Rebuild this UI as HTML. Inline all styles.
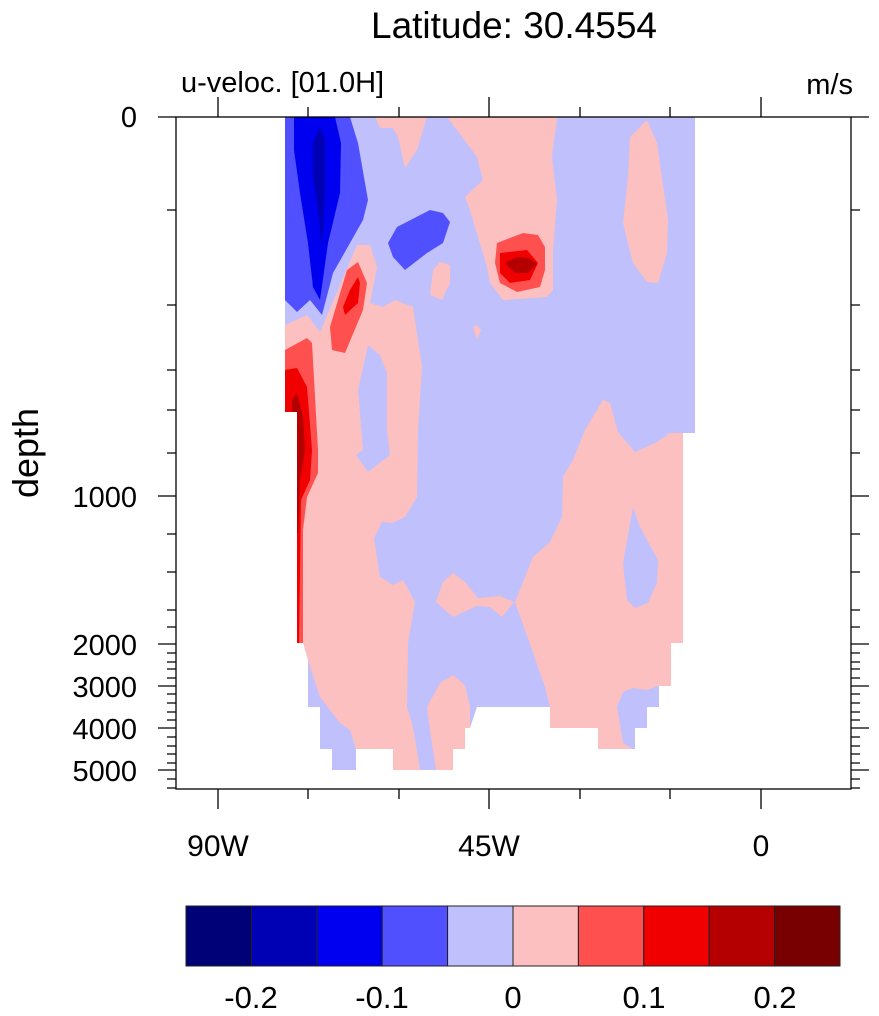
<!DOCTYPE html>
<html><head><meta charset="utf-8"><style>
html,body{margin:0;padding:0;background:#fff;}
svg{display:block;font-family:"Liberation Sans",sans-serif;}
</style></head><body>
<svg width="879" height="1016" viewBox="0 0 879 1016" xmlns="http://www.w3.org/2000/svg">
<rect width="879" height="1016" fill="#fff"/>
<text x="514" y="38" font-size="37" text-anchor="middle">Latitude: 30.4554</text>
<text x="181" y="92" font-size="29">u-veloc. [01.0H]</text>
<text x="853" y="94" font-size="29" text-anchor="end">m/s</text>
<text transform="translate(38,453) rotate(-90)" font-size="36" text-anchor="middle">depth</text>

<polygon fill="#c0c0fc" points="285,117 695,117 695,433 683,433 683,643 671,643 671,686 659,686 659,707 647,707 647,728 635,728 635,749 598,749 598,728 550,728 550,707 477,707 470,728 465,728 465,749 453,749 453,770 393,770 393,749 356,749 356,770 332,770 332,749 320,749 320,707 308,707 308,643 297,643 297,412 285,412"/>

<polygon fill="#fcc0c0" points="375,117 427,117 417,150 405,168 398,137 393,128 380,128"/>
<polygon fill="#fcc0c0" points="447,117 557,117 552,157 557,200 553,250 553,290 547,297 503,300 490,283 487,267 470,210 465,197 483,180 477,157 457,130"/>
<polygon fill="#fcc0c0" points="630,137 647,120 657,143 668,220 667,253 658,283 647,282 633,263 623,223 628,177"/>
<polygon fill="#fcc0c0" points="433,270 440,262 450,265 450,283 442,300 430,295"/>
<polygon fill="#fcc0c0" points="473,327 477,325 481,330 477,340"/>
<polygon fill="#fcc0c0" points="285,325 307,315 320,332 357,245 370,245 377,267 370,303 383,307 395,300 413,307 422,367 418,430 417,497 405,517 392,523 382,522 374,538 380,577 393,585 403,580 415,602 408,643 407,707 413,727 420,770 393,770 393,749 356,749 350,730 340,723 320,697 308,660 303,643 297,643 297,412 285,412"/>
<polygon fill="#c0c0fc" points="368,345 380,355 387,373 387,430 390,455 368,472 356,455 363,450 358,390"/>
<polygon fill="#fcc0c0" points="603,400 610,403 618,432 635,452 657,442 670,433 683,433 683,643 671,643 671,686 658,686 647,690 633,688 623,692 617,707 623,743 633,749 598,749 598,728 550,728 550,707 545,687 525,630 515,602 533,557 550,542 562,517 563,477 573,460 585,430"/>
<polygon fill="#c0c0fc" points="633,507 640,527 658,560 657,583 648,603 635,608 627,600 623,563 627,540"/>
<polygon fill="#fcc0c0" points="436,602 443,582 453,573 465,582 478,598 500,596 514,602 502,617 490,607 477,606 453,617"/>
<polygon fill="#fcc0c0" points="427,707 440,683 453,675 465,685 470,707 470,728 465,728 465,749 453,749 453,770 436,770 430,730"/>

<polygon fill="#ff5050" points="497,243 523,233 538,235 545,247 545,270 540,287 517,292 500,283 495,263"/>
<polygon fill="#f00000" points="500,253 527,250 538,263 530,280 510,283 500,273"/>
<polygon fill="#b40000" points="505,263 517,257 528,258 537,264 528,273 515,273"/>

<polygon fill="#5050ff" points="388,243 397,227 430,210 443,213 450,222 443,243 427,253 405,270 393,257"/>
<polygon fill="#5050ff" points="285,117 350,117 358,143 368,200 363,220 350,243 333,273 322,315 310,300 297,312 285,300"/>
<polygon fill="#0000f0" points="294,117 335,117 341,143 340,193 328,243 320,300 313,287 308,243 300,193 294,150"/>
<polygon fill="#0000b4" points="313,143 320,127 325,140 325,193 322,247 318,210 313,177"/>

<polygon fill="#ff5050" points="330,327 347,270 358,262 367,283 363,310 345,353 332,350"/>
<polygon fill="#f00000" points="343,307 350,290 358,277 360,283 358,303 345,315"/>
<polygon fill="#ff5050" points="285,350 307,338 312,343 318,450 318,473 307,497 303,530 303,643 297,643 297,412 285,412"/>
<polygon fill="#f00000" points="285,370 297,368 307,387 312,450 310,480 301,500 299,643 297,643 297,412 285,412"/>
<polygon fill="#b40000" points="292,400 297,393 303,417 305,450 300,480 298,533 297,533 297,412 292,412"/>

<g stroke="#000" stroke-width="1.3" fill="none">
<rect x="176" y="117" width="675" height="672"/>
<path d="M218,117V97M489,117V97M761,117V97M308,117V107M399,117V107M580,117V107M670,117V107
M218,789V809M489,789V809M761,789V809M308,789V799M399,789V799M580,789V799M670,789V799"/>
<path d="M176,117H158M176,496H158M176,644H158M176,686H158M176,728H158M176,770H158
M851,117H869M851,496H869M851,644H869M851,686H869M851,728H869M851,770H869"/>
<path d="M176,210H167M176,305H167M176,370H167M176,410H167M176,453H167M176,534H167M176,572H167M176,610H167M176,627H167M176,653H167M176,662H167M176,669H167M176,678H167M176,694H167M176,703H167M176,712H167M176,720H167M176,737H167M176,746H167M176,754H167M176,763H167M176,779H167M176,788H167
M851,210H860M851,305H860M851,370H860M851,410H860M851,453H860M851,534H860M851,572H860M851,610H860M851,627H860M851,653H860M851,662H860M851,669H860M851,678H860M851,694H860M851,703H860M851,712H860M851,720H860M851,737H860M851,746H860M851,754H860M851,763H860M851,779H860M851,788H860"/>
</g>
<g font-size="29" text-anchor="end">
<text x="137" y="127">0</text>
<text x="137" y="507">1000</text>
<text x="137" y="655">2000</text>
<text x="137" y="697">3000</text>
<text x="137" y="739">4000</text>
<text x="137" y="781">5000</text>
</g>
<g font-size="30" text-anchor="middle">
<text x="218" y="856">90W</text>
<text x="489" y="856">45W</text>
<text x="761" y="856">0</text>
</g>

<g stroke="#222" stroke-width="1">
<rect x="186" y="906" width="65.4" height="60" fill="#000077"/>
<rect x="251.4" y="906" width="65.4" height="60" fill="#0000b4"/>
<rect x="316.8" y="906" width="65.4" height="60" fill="#0000f0"/>
<rect x="382.2" y="906" width="65.4" height="60" fill="#5050ff"/>
<rect x="447.6" y="906" width="65.4" height="60" fill="#c0c0fc"/>
<rect x="513" y="906" width="65.4" height="60" fill="#fcc0c0"/>
<rect x="578.4" y="906" width="65.4" height="60" fill="#ff5050"/>
<rect x="643.8" y="906" width="65.4" height="60" fill="#f00000"/>
<rect x="709.2" y="906" width="65.4" height="60" fill="#b40000"/>
<rect x="774.6" y="906" width="65.4" height="60" fill="#780000"/>
</g>
<g font-size="31" text-anchor="middle">
<text x="251" y="1008">-0.2</text>
<text x="382" y="1008">-0.1</text>
<text x="513" y="1008">0</text>
<text x="644" y="1008">0.1</text>
<text x="775" y="1008">0.2</text>
</g>
</svg>
</body></html>
